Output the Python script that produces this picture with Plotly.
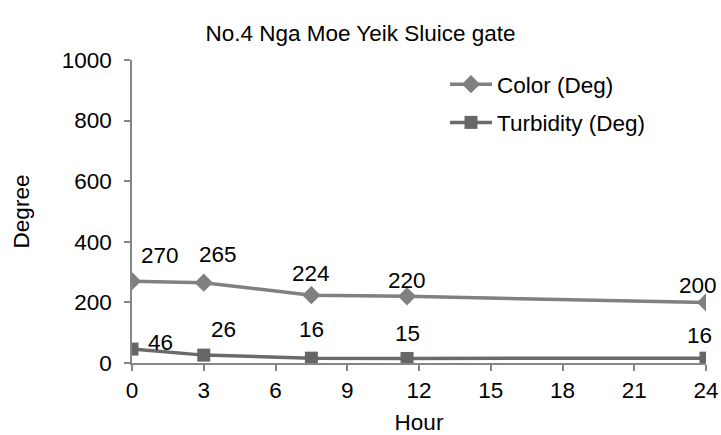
import plotly.graph_objects as go

hours = [0, 3, 7.5, 11.5, 24]
color_deg = [270, 265, 224, 220, 200]
turbidity_deg = [46, 26, 16, 15, 16]
x_ticks = [0, 3, 6, 9, 12, 15, 18, 21, 24]
y_ticks = [0, 200, 400, 600, 800, 1000]

color_label_shift = [(28, 26), (14, 28), (0, 22), (0, 16), (-8, 17)]
turb_label_shift = [(28, 7), (20, 26), (0, 29), (0, 25), (-7, 23)]

FONT = "Liberation Sans, Arial, sans-serif"
FS = 22.5

fig = go.Figure()
fig.add_trace(go.Scatter(
    x=hours, y=color_deg, name="Color (Deg)", mode="lines+markers",
    line=dict(color="#808080", width=3.5),
    marker=dict(symbol="diamond", size=14, color="#808080"),
    legendgroup="a",
))
fig.add_trace(go.Scatter(
    x=hours, y=turbidity_deg, name="Turbidity (Deg)", mode="lines+markers",
    line=dict(color="#6a6a6a", width=3.5),
    marker=dict(symbol="square", size=13, color="#666666"),
    legendgroup="b",
))

for xs, ys, shifts in [(hours, color_deg, color_label_shift), (hours, turbidity_deg, turb_label_shift)]:
    for xv, yv, (dx, dy) in zip(xs, ys, shifts):
        fig.add_annotation(x=xv, y=yv, text=str(yv), showarrow=False,
                           xshift=dx, yshift=dy,
                           font=dict(family=FONT, size=FS, color="#000000"))

axis_font = dict(family=FONT, size=FS, color="#000000")
fig.update_layout(
    width=721, height=435,
    margin=dict(l=132, r=15, t=60, b=72, autoexpand=False),
    paper_bgcolor="white", plot_bgcolor="white",
    font=dict(family=FONT, size=FS, color="#000000"),
    title=dict(text="No.4 Nga Moe Yeik Sluice gate", x=0.5, xref="container",
               xanchor="center", y=1 - 33 / 435, yanchor="middle", yref="container",
               font=dict(family=FONT, size=FS, color="#000000")),
    showlegend=True,
    legend=dict(x=(445 - 132) / 574, y=1 - (63 - 60) / 303, xanchor="left", yanchor="top",
                bgcolor="rgba(0,0,0,0)", traceorder="grouped", tracegroupgap=6,
                itemwidth=42,
                font=dict(family=FONT, size=FS, color="#000000")),
    xaxis=dict(range=[0, 24], tickvals=x_ticks, ticktext=[str(v) for v in x_ticks],
               showgrid=False, zeroline=False, showline=True, linecolor="#868686", linewidth=1.5,
               ticks="outside", ticklen=6, tickcolor="#868686", tickwidth=1.5,
               automargin=False, tickfont=axis_font,
               title=dict(text="Hour", standoff=16, font=axis_font)),
    yaxis=dict(range=[0, 1000], tickvals=y_ticks, ticktext=[str(v) for v in y_ticks],
               showgrid=False, zeroline=False, showline=True, linecolor="#868686", linewidth=1.5,
               ticks="outside", ticklen=6, tickcolor="#868686", tickwidth=1.5,
               ticklabelstandoff=8,
               automargin=False, tickfont=axis_font,
               title=dict(text="Degree", standoff=26, font=axis_font)),
)

fig.write_html("out.html")
